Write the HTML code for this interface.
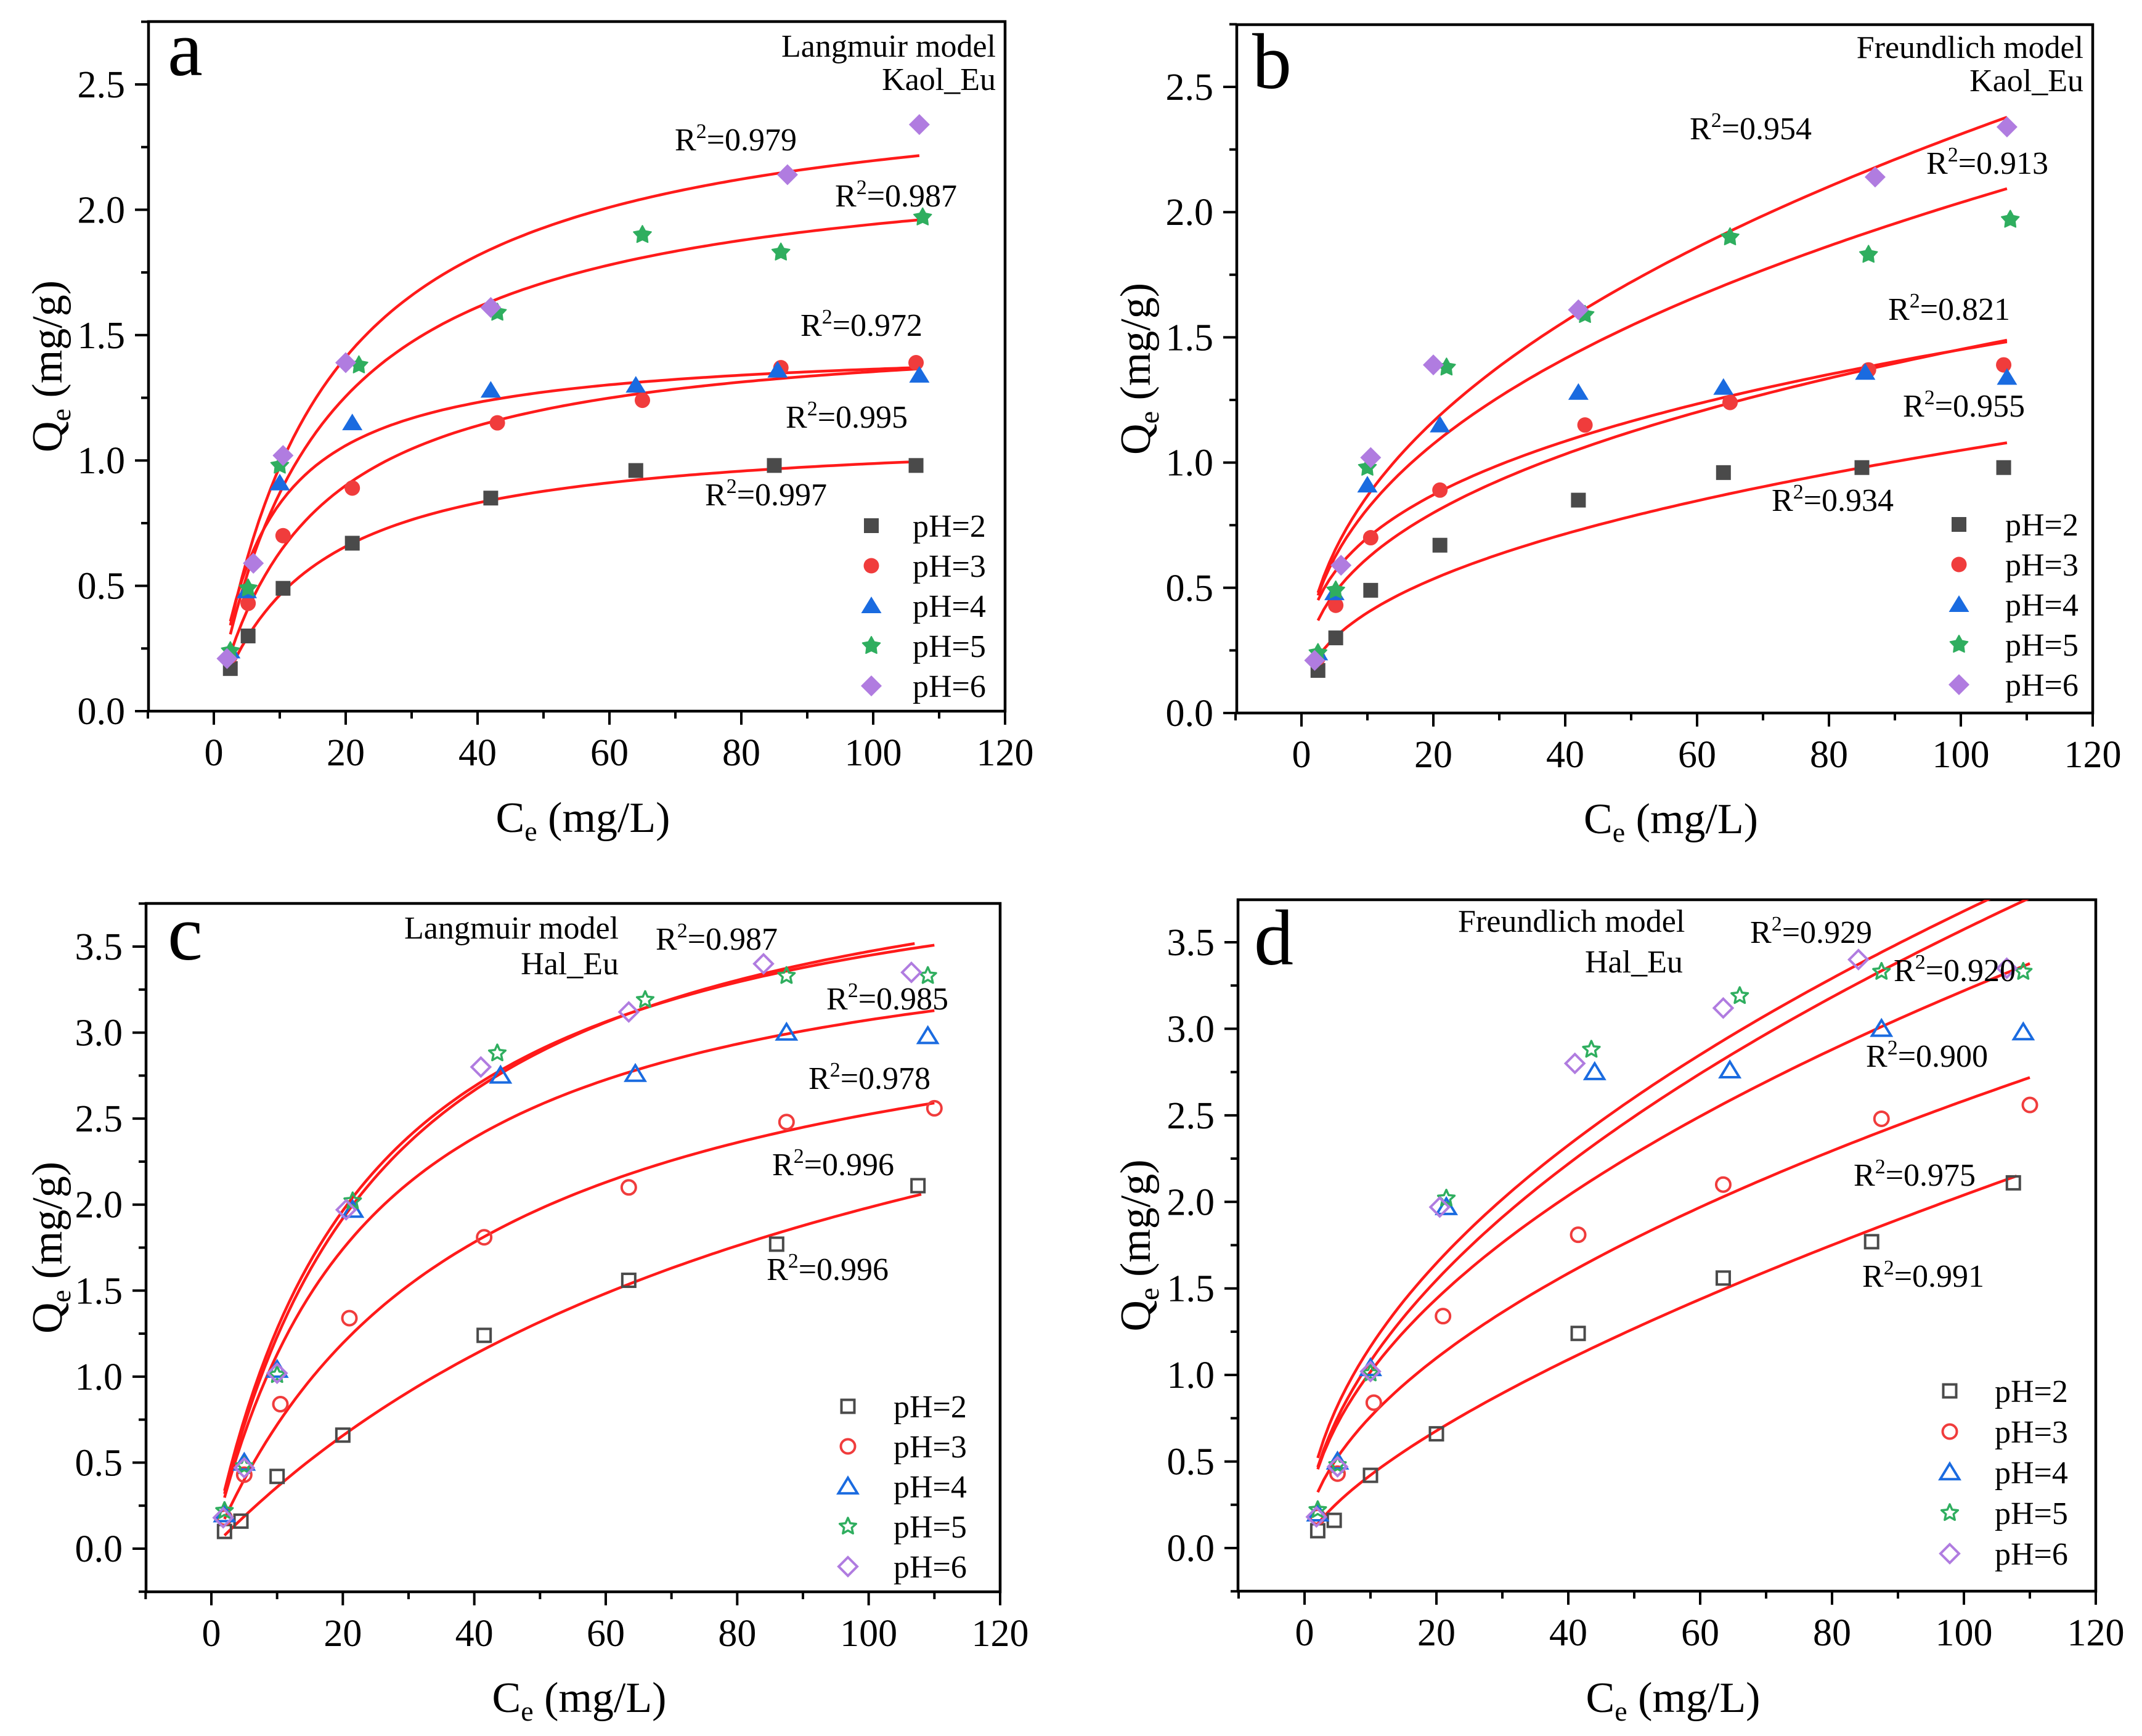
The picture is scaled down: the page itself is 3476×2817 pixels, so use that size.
<!DOCTYPE html>
<html><head><meta charset="utf-8">
<style>
html,body{margin:0;padding:0;background:#fff;}
svg{display:block;font-family:"Liberation Serif","Times New Roman",serif;}
svg text{font-family:"Liberation Serif","Times New Roman",serif;}
</style></head>
<body>
<svg id="fig" xmlns="http://www.w3.org/2000/svg" width="3476" height="2817" viewBox="0 0 3476 2817" font-family="Liberation Serif, serif">
<rect width="3476" height="2817" fill="#fff"/>
</svg>
<script>
// ---- Data (Ce mg/L, Qe mg/g) ----
const phLabels = ["pH=2","pH=3","pH=4","pH=5","pH=6"];
// Kaolinite (panels a, b)
const kaolCe2 = [2.5,5.2,10.5,21,42,64,85,106.5];
const kaolQe2 = [0.17,0.30,0.49,0.67,0.85,0.96,0.98,0.98];
const kaolCe3 = [2.5,5.2,10.5,21,43,65,86,106.5];
const kaolQe3 = [0.22,0.43,0.70,0.89,1.15,1.24,1.37,1.39];
const kaolCe4 = [2.5,5,10,21,42,64,85.5,107];
const kaolQe4 = [0.24,0.48,0.91,1.15,1.28,1.30,1.36,1.34];
const kaolCe5 = [2.5,5.2,10,22,43,65,86,107.5];
const kaolQe5 = [0.24,0.49,0.98,1.38,1.59,1.90,1.83,1.97];
const kaolCe6 = [2,6,10.5,20,42,87,107];
const kaolQe6 = [0.21,0.59,1.02,1.39,1.61,2.14,2.34];
// Halloysite (panels c, d)
const halCe2 = [2,4.5,10,20,41.5,63.5,86,107.5];
const halQe2 = [0.10,0.16,0.42,0.66,1.24,1.56,1.77,2.11];
const halCe3 = [2,5,10.5,21,41.5,63.5,87.5,110];
const halQe3 = [0.18,0.43,0.84,1.34,1.81,2.10,2.48,2.56];
const halCe4 = [2,5,10,21.5,44,64.5,87.5,109];
const halQe4 = [0.20,0.50,1.04,1.97,2.75,2.76,3.00,2.98];
const halCe5 = [2,5,10,21.5,43.5,66,87.5,109];
const halQe5 = [0.22,0.48,1.01,2.02,2.88,3.19,3.33,3.33];
const halCe6 = [1.8,5,10,20.5,41,63.5,84,106.5];
const halQe6 = [0.18,0.47,1.02,1.97,2.80,3.12,3.40,3.35];
// Fit parameters
const langKaolQm = [1.13,1.55,1.47,2.25,2.55];
const langKaolK  = [0.0694,0.0692,0.129,0.0631,0.062];
const freKaolKf  = [0.153,0.263,0.337,0.326,0.325];
const freKaolN   = [0.418,0.371,0.317,0.398,0.426];
const langHalQm  = [4.0,3.5,3.8,4.25,4.35];
const langHalK   = [0.00983,0.0259,0.0423,0.043,0.0395];
const freHalKf   = [0.087,0.223,0.322,0.326,0.368];
const freHalN    = [0.685,0.532,0.5,0.52,0.5];
const fitRangeKaol = [2.5,107];
const fitRangeHal  = [[2,108],[2,110],[2,110],[2,110],[2,107]];
// R2 labels
const r2a = ["0.979","0.987","0.972","0.995","0.997"];
const r2b = ["0.954","0.913","0.821","0.955","0.934"];
const r2c = ["0.987","0.985","0.978","0.996","0.996"];
const r2d = ["0.929","0.920","0.900","0.975","0.991"];
const xTicks = [0,20,40,60,80,100,120];
const yTicksAB = [0,0.5,1.0,1.5,2.0,2.5];
const yTicksCD = [0,0.5,1.0,1.5,2.0,2.5,3.0,3.5];

const colors = ["#4a4a4a","#f03c3c","#1a6be0","#2fae5f","#b07ce0"];
const NS = "http://www.w3.org/2000/svg";
const svg = document.getElementById("fig");
const FF = "Liberation Serif, Times New Roman, serif";

function mk(tag, attrs, parent){
  const e = document.createElementNS(NS, tag);
  for (const k in attrs) e.setAttribute(k, attrs[k]);
  if (tag==="text") e.setAttribute("font-family", FF);
  (parent||svg).appendChild(e);
  return e;
}

function marker(g, type, cx, cy, col, filled, name){
  let e;
  const sw = filled ? 0 : 4;
  const fill = filled ? col : "none";
  if (type===0){ const s = filled?24:21; e = mk("rect",{x:cx-s/2,y:cy-s/2,width:s,height:s,fill:fill,stroke:col,"stroke-width":sw},g); }
  else if (type===1){ e = mk("circle",{cx:cx,cy:cy,r:filled?12.5:11.5,fill:fill,stroke:col,"stroke-width":sw},g); }
  else if (type===2){ const s=filled?15:14; e = mk("polygon",{points:`${cx},${cy-s} ${cx+s*1.1},${cy+s*0.8} ${cx-s*1.1},${cy+s*0.8}`,fill:fill,stroke:col,"stroke-width":sw,"stroke-linejoin":"miter"},g); }
  else if (type===3){
    let p=[]; const R=filled?15:14, r=filled?8:6.5;
    for(let i=0;i<10;i++){const a=-Math.PI/2+i*Math.PI/5; const rr=i%2?r:R; p.push((cx+rr*Math.cos(a)).toFixed(1)+","+(cy+rr*Math.sin(a)).toFixed(1));}
    e = mk("polygon",{points:p.join(" "),fill:fill,stroke:col,"stroke-width":filled?2:3.5,"stroke-linejoin":"round"},g);
  }
  else { const s=filled?17:15; e = mk("polygon",{points:`${cx},${cy-s} ${cx+s},${cy} ${cx},${cy+s} ${cx-s},${cy}`,fill:fill,stroke:col,"stroke-width":sw},g); }
  
  
  return e;
}

function panel(cfg){
  const g = mk("g",{});
  
  
  const L=cfg.L,R=cfg.R,T=cfg.T,B=cfg.B;
  const xs = v => cfg.x0 + v*(cfg.x120-cfg.x0)/120;
  const ys = v => cfg.y0 - v*(cfg.y0-cfg.yTop)/cfg.yTopVal;
  const clipId = "clip"+cfg.id;
  const cp = mk("clipPath",{id:clipId},g);
  mk("rect",{x:L,y:T,width:R-L,height:B-T},cp);
  const fr = mk("rect",{x:L,y:T,width:R-L,height:B-T,fill:"none",stroke:"#000","stroke-width":4.5},g);
  
  
  for (let v=-10; v<=120; v+=10){
    const X = xs(v); const major = v%20===0;
    const t = mk("line",{x1:X,y1:B,x2:X,y2:B+(major?22:12),stroke:"#000","stroke-width":4},g);
    
    
  }
  xTicks.forEach(v=>{
    const t = mk("text",{x:xs(v),y:B+cfg.xLabDy,"font-size":62,"text-anchor":"middle",fill:"#000"},g);
    t.textContent = String(v);
    
    
  });
  for (let v=cfg.yMin; v<=cfg.yMax+1e-9; v+=0.25){
    const Y = ys(v); const major = Math.abs(v*2-Math.round(v*2))<1e-6;
    if (Y>B+1||Y<T-1) continue;
    const t = mk("line",{x1:L-(major?22:12),y1:Y,x2:L,y2:Y,stroke:"#000","stroke-width":4},g);
    
    
  }
  cfg.yTicks.forEach(v=>{
    const t = mk("text",{x:L-38,y:ys(v)+21,"font-size":62,"text-anchor":"end",fill:"#000"},g);
    t.textContent = v.toFixed(1);
    
    
  });
  const xt = mk("text",{x:(L+R)/2+10,y:cfg.xTitleY,"font-size":70,"text-anchor":"middle",fill:"#000"},g);
  xt.innerHTML = 'C<tspan font-size="46" dy="14">e</tspan><tspan dy="-14"> (mg/L)</tspan>';
  
  
  const yc = (T+B)/2;
  const yt = mk("text",{x:0,y:0,"font-size":70,"text-anchor":"middle",fill:"#000",transform:`translate(${cfg.yTitleX},${yc}) rotate(-90)`},g);
  yt.innerHTML = 'Q<tspan font-size="46" dy="14">e</tspan><tspan dy="-14"> (mg/g)</tspan>';
  
  
  const pl = mk("text",{x:cfg.letX,y:cfg.letY,"font-size":128,fill:"#000"},g);
  pl.textContent = cfg.id;
  
  
  cfg.notes.forEach(n=>{
    const t = mk("text",{x:n[0],y:n[1],"font-size":52,"text-anchor":n[3],fill:"#000"},g);
    t.textContent = n[2];
    
    
  });
  const cg = mk("g",{"clip-path":`url(#${clipId})`},g);
  for (let i=0;i<5;i++){
    const r = cfg.range(i);
    let pts=[];
    for (let k=0;k<=120;k++){
      const c = r[0]+(r[1]-r[0])*k/120;
      pts.push(xs(c).toFixed(1)+","+ys(cfg.fit(i,c)).toFixed(1));
    }
    const pl2 = mk("polyline",{points:pts.join(" "),fill:"none",stroke:"#ff1a1a","stroke-width":4.5},cg);
    
    
  }
  for (let i=0;i<5;i++){
    const sg = mk("g",{},g);
    
    
    const ce = cfg.ce[i], qe = cfg.qe[i];
    ce.forEach((c,k)=>marker(sg,i,xs(c),ys(qe[k]),colors[i],cfg.filled,'point'));
  }
  cfg.r2.forEach((v,i)=>{
    const p = cfg.r2pos[i];
    const t = mk("text",{x:p[0],y:p[1],"font-size":52,fill:"#000"},g);
    t.innerHTML = 'R<tspan font-size="34" dy="-20">2</tspan><tspan dy="20">='+v+'</tspan>';
    
    
  });
  const lg = mk("g",{},g);
  
  
  phLabels.forEach((lab,i)=>{
    const y = cfg.legY + i*cfg.legDy;
    marker(lg,i,cfg.legX,y,colors[i],cfg.filled,'legend-marker');
    const t = mk("text",{x:cfg.legTX,y:y+18,"font-size":52,fill:"#000"},lg);
    t.textContent = lab;
    
    
  });
}

const kaolCe=[kaolCe2,kaolCe3,kaolCe4,kaolCe5,kaolCe6], kaolQe=[kaolQe2,kaolQe3,kaolQe4,kaolQe5,kaolQe6];
const halCe=[halCe2,halCe3,halCe4,halCe5,halCe6], halQe=[halQe2,halQe3,halQe4,halQe5,halQe6];
const lang = (Qm,K)=>(i,c)=>Qm[i]*K[i]*c/(1+K[i]*c);
const freu = (Kf,N)=>(i,c)=>Kf[i]*Math.pow(c,N[i]);

panel({id:"a",L:241,R:1631,T:35,B:1154,x0:347,x120:1631,y0:1154,yTop:137,yTopVal:2.5,yMin:0,yMax:2.75,
  yTicks:yTicksAB,xLabDy:88,xTitleY:1350,yTitleX:100,letX:272,letY:122,
  notes:[[1616,92,"Langmuir model","end"],[1616,146,"Kaol_Eu","end"]],
  fit:lang(langKaolQm,langKaolK),range:i=>fitRangeKaol,ce:kaolCe,qe:kaolQe,filled:true,
  r2:r2a,r2pos:[[1095,244],[1355,335],[1299,545],[1275,694],[1144,820]],
  legX:1414,legTX:1481,legY:853,legDy:65});
panel({id:"b",L:2007,R:3396,T:40,B:1157,x0:2112,x120:3396,y0:1157,yTop:141,yTopVal:2.5,yMin:0,yMax:2.75,
  yTicks:yTicksAB,xLabDy:88,xTitleY:1352,yTitleX:1866,letX:2032,letY:143,
  notes:[[3381,94,"Freundlich model","end"],[3381,148,"Kaol_Eu","end"]],
  fit:freu(freKaolKf,freKaolN),range:i=>fitRangeKaol,ce:kaolCe,qe:kaolQe,filled:true,
  r2:r2b,r2pos:[[2742,226],[3126,282],[3064,519],[3088,676],[2875,829]],
  legX:3179,legTX:3254,legY:851,legDy:65});
panel({id:"c",L:237,R:1623,T:1466,B:2583,x0:343,x120:1623,y0:2513,yTop:1536,yTopVal:3.5,yMin:-0.25,yMax:3.75,
  yTicks:yTicksCD,xLabDy:88,xTitleY:2778,yTitleX:100,letX:272,letY:1557,
  notes:[[1004,1523,"Langmuir model","end"],[1004,1581,"Hal_Eu","end"]],
  fit:lang(langHalQm,langHalK),range:i=>fitRangeHal[i],ce:halCe,qe:halQe,filled:false,
  r2:r2c,r2pos:[[1064,1541],[1341,1638],[1312,1767],[1253,1907],[1244,2077]],
  legX:1376,legTX:1450,legY:2282,legDy:65});
panel({id:"d",L:2009,R:3401,T:1460,B:2582,x0:2117,x120:3401,y0:2512,yTop:1529,yTopVal:3.5,yMin:-0.25,yMax:3.75,
  yTicks:yTicksCD,xLabDy:88,xTitleY:2778,yTitleX:1866,letX:2035,letY:1565,
  notes:[[2366,1512,"Freundlich model","start"],[2572,1578,"Hal_Eu","start"]],
  fit:freu(freHalKf,freHalN),range:i=>fitRangeHal[i],ce:halCe,qe:halQe,filled:false,
  r2:r2d,r2pos:[[2840,1530],[3073,1592],[3028,1731],[3008,1924],[3022,2088]],
  legX:3164,legTX:3237,legY:2257,legDy:66});
</script>
</body></html>
